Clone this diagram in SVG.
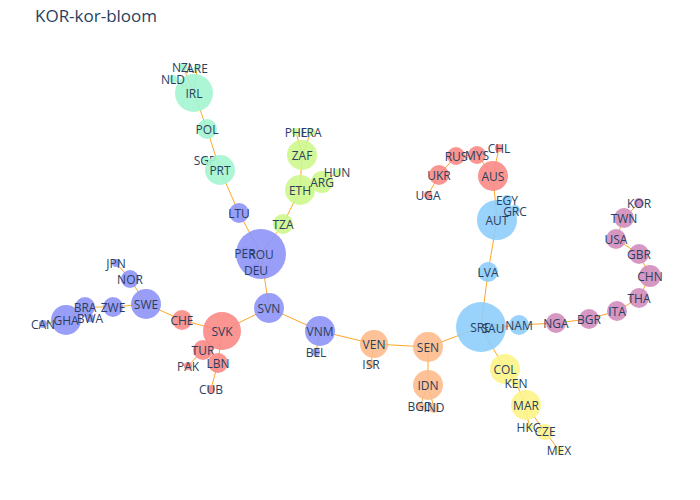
<svg xmlns="http://www.w3.org/2000/svg" width="700" height="500" viewBox="0 0 700 500">
<style>
text{font-family:"Open Sans","Liberation Sans",sans-serif;font-size:12px;fill:#2a3f5f;text-anchor:middle;dominant-baseline:central}
.e line{stroke:#ffa726;stroke-width:1}
.a{fill:#8e95f7}.r{fill:#f98a86}.m{fill:#a3f5d1}.l{fill:#cdf78d}.b{fill:#8ecdfa}.o{fill:#fdbb8c}.y{fill:#fdf488}.p{fill:#d18dbd}
circle{opacity:0.9}
</style>
<rect width="700" height="500" fill="#fff"/>
<text x="35" y="15" style="font-size:17px;text-anchor:start">KOR-kor-bloom</text>
<g id="connectors" class="e">
<line x1="194" y1="93" x2="183" y2="67"/><line x1="194" y1="93" x2="197" y2="68"/><line x1="194" y1="93" x2="173" y2="79"/>
<line x1="194" y1="93" x2="207" y2="129"/><line x1="207" y1="129" x2="220" y2="170"/><line x1="220" y1="170" x2="205" y2="160"/>
<line x1="220" y1="170" x2="239" y2="213"/><line x1="239" y1="213" x2="261" y2="254"/><line x1="261" y1="254" x2="245" y2="253"/>
<line x1="261" y1="254" x2="256" y2="270"/><line x1="261" y1="254" x2="283" y2="224"/><line x1="283" y1="224" x2="300" y2="190"/>
<line x1="300" y1="190" x2="302" y2="155"/><line x1="300" y1="190" x2="322" y2="182"/><line x1="322" y1="182" x2="337" y2="173"/>
<line x1="302" y1="155" x2="296" y2="132"/><line x1="302" y1="155" x2="311" y2="132"/><line x1="261" y1="254" x2="269" y2="308"/>
<line x1="269" y1="308" x2="222" y2="331"/><line x1="269" y1="308" x2="320" y2="331"/><line x1="320" y1="331" x2="316" y2="352"/>
<line x1="320" y1="331" x2="374" y2="344"/><line x1="374" y1="344" x2="371" y2="364"/><line x1="374" y1="344" x2="428" y2="347"/>
<line x1="428" y1="347" x2="428" y2="385"/><line x1="428" y1="385" x2="420" y2="406"/><line x1="428" y1="385" x2="434" y2="408"/>
<line x1="428" y1="347" x2="481" y2="327"/><line x1="481" y1="327" x2="488" y2="272"/><line x1="488" y1="272" x2="497" y2="220"/>
<line x1="497" y1="220" x2="507" y2="200"/><line x1="497" y1="220" x2="515" y2="210"/><line x1="497" y1="220" x2="493" y2="176"/>
<line x1="493" y1="176" x2="499" y2="148"/><line x1="493" y1="176" x2="477" y2="155"/><line x1="477" y1="155" x2="456" y2="156"/>
<line x1="456" y1="156" x2="439" y2="175"/><line x1="439" y1="175" x2="428" y2="195"/><line x1="481" y1="327" x2="493" y2="328"/>
<line x1="493" y1="328" x2="519" y2="325"/><line x1="519" y1="325" x2="556" y2="323"/><line x1="556" y1="323" x2="589" y2="319"/>
<line x1="589" y1="319" x2="617" y2="311"/><line x1="617" y1="311" x2="639" y2="298"/><line x1="639" y1="298" x2="650" y2="276"/>
<line x1="650" y1="276" x2="639" y2="254"/><line x1="639" y1="254" x2="616" y2="239"/><line x1="616" y1="239" x2="624" y2="218"/>
<line x1="624" y1="218" x2="639" y2="203"/><line x1="481" y1="327" x2="505" y2="369"/><line x1="505" y1="369" x2="516" y2="383"/>
<line x1="516" y1="383" x2="526" y2="405"/><line x1="526" y1="405" x2="529" y2="427"/><line x1="526" y1="405" x2="545" y2="432"/>
<line x1="545" y1="432" x2="559" y2="450"/><line x1="222" y1="331" x2="182" y2="320"/><line x1="182" y1="320" x2="146" y2="304"/>
<line x1="146" y1="304" x2="130" y2="279"/><line x1="130" y1="279" x2="116" y2="263"/><line x1="146" y1="304" x2="113" y2="307"/>
<line x1="113" y1="307" x2="85" y2="307"/><line x1="85" y1="307" x2="66" y2="320"/><line x1="66" y1="320" x2="43" y2="324"/>
<line x1="85" y1="307" x2="90" y2="318"/><line x1="222" y1="331" x2="203" y2="350"/><line x1="203" y1="350" x2="188" y2="366"/>
<line x1="222" y1="331" x2="218" y2="363"/><line x1="218" y1="363" x2="211" y2="389"/>
</g>
<g id="ROU"><circle class="a" cx="261" cy="254" r="25"/><text x="261" y="254">ROU</text></g>
<g id="PER"><circle class="a" cx="245" cy="253" r="6"/><text x="245" y="253">PER</text></g>
<g id="DEU"><circle class="a" cx="256" cy="270" r="6"/><text x="256" y="270">DEU</text></g>
<g id="LTU"><circle class="a" cx="239" cy="213" r="10"/><text x="239" y="213">LTU</text></g>
<g id="SVN"><circle class="a" cx="269" cy="308" r="15"/><text x="269" y="308">SVN</text></g>
<g id="VNM"><circle class="a" cx="320" cy="331" r="15"/><text x="320" y="331">VNM</text></g>
<g id="BEL"><circle class="a" cx="316" cy="352" r="4"/><text x="316" y="352">BEL</text></g>
<g id="SWE"><circle class="a" cx="146" cy="304" r="15"/><text x="146" y="304">SWE</text></g>
<g id="NOR"><circle class="a" cx="130" cy="279" r="9"/><text x="130" y="279">NOR</text></g>
<g id="JPN"><circle class="a" cx="116" cy="263" r="4"/><text x="116" y="263">JPN</text></g>
<g id="ZWE"><circle class="a" cx="113" cy="307" r="10"/><text x="113" y="307">ZWE</text></g>
<g id="GHA"><circle class="a" cx="66" cy="320" r="15"/><text x="66" y="320">GHA</text></g>
<g id="BRA"><circle class="a" cx="85" cy="307" r="10"/><text x="85" y="307">BRA</text></g>
<g id="BWA"><circle class="a" cx="90" cy="318" r="4"/><text x="90" y="318">BWA</text></g>
<g id="CAN"><circle class="a" cx="43" cy="324" r="4"/><text x="43" y="324">CAN</text></g>
<g id="IRL"><circle class="m" cx="194" cy="93" r="19"/><text x="194" y="93">IRL</text></g>
<g id="NZL"><circle class="m" cx="183" cy="67" r="4"/><text x="183" y="67">NZL</text></g>
<g id="ARE"><circle class="m" cx="197" cy="68" r="3"/><text x="197" y="68">ARE</text></g>
<g id="NLD"><circle class="m" cx="173" cy="79" r="4"/><text x="173" y="79">NLD</text></g>
<g id="POL"><circle class="m" cx="207" cy="129" r="10"/><text x="207" y="129">POL</text></g>
<g id="SGP"><circle class="m" cx="205" cy="160" r="4"/><text x="205" y="160">SGP</text></g>
<g id="PRT"><circle class="m" cx="220" cy="170" r="15"/><text x="220" y="170">PRT</text></g>
<g id="ZAF"><circle class="l" cx="302" cy="155" r="15"/><text x="302" y="155">ZAF</text></g>
<g id="PHL"><circle class="l" cx="296" cy="132" r="4"/><text x="296" y="132">PHL</text></g>
<g id="FRA"><circle class="l" cx="311" cy="132" r="4"/><text x="311" y="132">FRA</text></g>
<g id="ETH"><circle class="l" cx="300" cy="190" r="15"/><text x="300" y="190">ETH</text></g>
<g id="ARG"><circle class="l" cx="322" cy="182" r="11"/><text x="322" y="182">ARG</text></g>
<g id="HUN"><circle class="l" cx="337" cy="173" r="4"/><text x="337" y="172">HUN</text></g>
<g id="TZA"><circle class="l" cx="283" cy="224" r="10"/><text x="283" y="224">TZA</text></g>
<g id="SVK"><circle class="r" cx="222" cy="331" r="19"/><text x="222" y="331">SVK</text></g>
<g id="CHE"><circle class="r" cx="182" cy="320" r="10"/><text x="182" y="320">CHE</text></g>
<g id="TUR"><circle class="r" cx="203" cy="350" r="10"/><text x="203" y="350">TUR</text></g>
<g id="LBN"><circle class="r" cx="218" cy="363" r="10"/><text x="218" y="363">LBN</text></g>
<g id="PAK"><circle class="r" cx="188" cy="366" r="4"/><text x="188" y="366">PAK</text></g>
<g id="CUB"><circle class="r" cx="211" cy="389" r="4"/><text x="211" y="389">CUB</text></g>
<g id="AUS"><circle class="r" cx="493" cy="176" r="15"/><text x="493" y="176">AUS</text></g>
<g id="CHL"><circle class="r" cx="499" cy="148" r="4"/><text x="499" y="148">CHL</text></g>
<g id="MYS"><circle class="r" cx="477" cy="155" r="9"/><text x="477" y="155">MYS</text></g>
<g id="RUS"><circle class="r" cx="456" cy="156" r="9"/><text x="456" y="156">RUS</text></g>
<g id="UKR"><circle class="r" cx="439" cy="175" r="10"/><text x="439" y="175">UKR</text></g>
<g id="UGA"><circle class="r" cx="428" cy="195" r="4"/><text x="428" y="195">UGA</text></g>
<g id="AUT"><circle class="b" cx="497" cy="220" r="20"/><text x="497" y="220">AUT</text></g>
<g id="EGY"><circle class="b" cx="507" cy="200" r="5"/><text x="507" y="200">EGY</text></g>
<g id="GRC"><circle class="b" cx="515" cy="210" r="5"/><text x="515" y="211">GRC</text></g>
<g id="LVA"><circle class="b" cx="488" cy="272" r="10"/><text x="488" y="272">LVA</text></g>
<g id="SRB"><circle class="b" cx="481" cy="327" r="25"/><text x="481" y="327">SRB</text></g>
<g id="SAU"><circle class="b" cx="493" cy="328" r="5"/><text x="493" y="328">SAU</text></g>
<g id="NAM"><circle class="b" cx="519" cy="325" r="10"/><text x="519" y="325">NAM</text></g>
<g id="NGA"><circle class="p" cx="556" cy="323" r="10"/><text x="556" y="323">NGA</text></g>
<g id="BGR"><circle class="p" cx="589" cy="319" r="10"/><text x="589" y="319">BGR</text></g>
<g id="ITA"><circle class="p" cx="617" cy="311" r="10"/><text x="617" y="311">ITA</text></g>
<g id="THA"><circle class="p" cx="639" cy="298" r="10"/><text x="639" y="298">THA</text></g>
<g id="CHN"><circle class="p" cx="650" cy="276" r="11"/><text x="650" y="276">CHN</text></g>
<g id="GBR"><circle class="p" cx="639" cy="254" r="10"/><text x="639" y="254">GBR</text></g>
<g id="USA"><circle class="p" cx="616" cy="239" r="10"/><text x="616" y="239">USA</text></g>
<g id="TWN"><circle class="p" cx="624" cy="218" r="10"/><text x="624" y="218">TWN</text></g>
<g id="KOR"><circle class="p" cx="639" cy="203" r="5"/><text x="639" y="203">KOR</text></g>
<g id="COL"><circle class="y" cx="505" cy="369" r="15"/><text x="505" y="369">COL</text></g>
<g id="KEN"><circle class="y" cx="516" cy="383" r="4"/><text x="516" y="383">KEN</text></g>
<g id="MAR"><circle class="y" cx="526" cy="405" r="15"/><text x="526" y="405">MAR</text></g>
<g id="HKG"><circle class="y" cx="529" cy="427" r="4"/><text x="529" y="427">HKG</text></g>
<g id="CZE"><circle class="y" cx="545" cy="432" r="8"/><text x="545" y="431">CZE</text></g>
<g id="MEX"><circle class="y" cx="559" cy="450" r="4"/><text x="559" y="450">MEX</text></g>
<g id="VEN"><circle class="o" cx="374" cy="344" r="14"/><text x="374" y="344">VEN</text></g>
<g id="ISR"><circle class="o" cx="371" cy="364" r="4"/><text x="371" y="364">ISR</text></g>
<g id="SEN"><circle class="o" cx="428" cy="347" r="15"/><text x="428" y="347">SEN</text></g>
<g id="IDN"><circle class="o" cx="428" cy="385" r="15"/><text x="428" y="385">IDN</text></g>
<g id="BGD"><circle class="o" cx="420" cy="406" r="4"/><text x="420" y="406">BGD</text></g>
<g id="IND"><circle class="o" cx="434" cy="408" r="5"/><text x="434" y="407">IND</text></g>
</svg>
